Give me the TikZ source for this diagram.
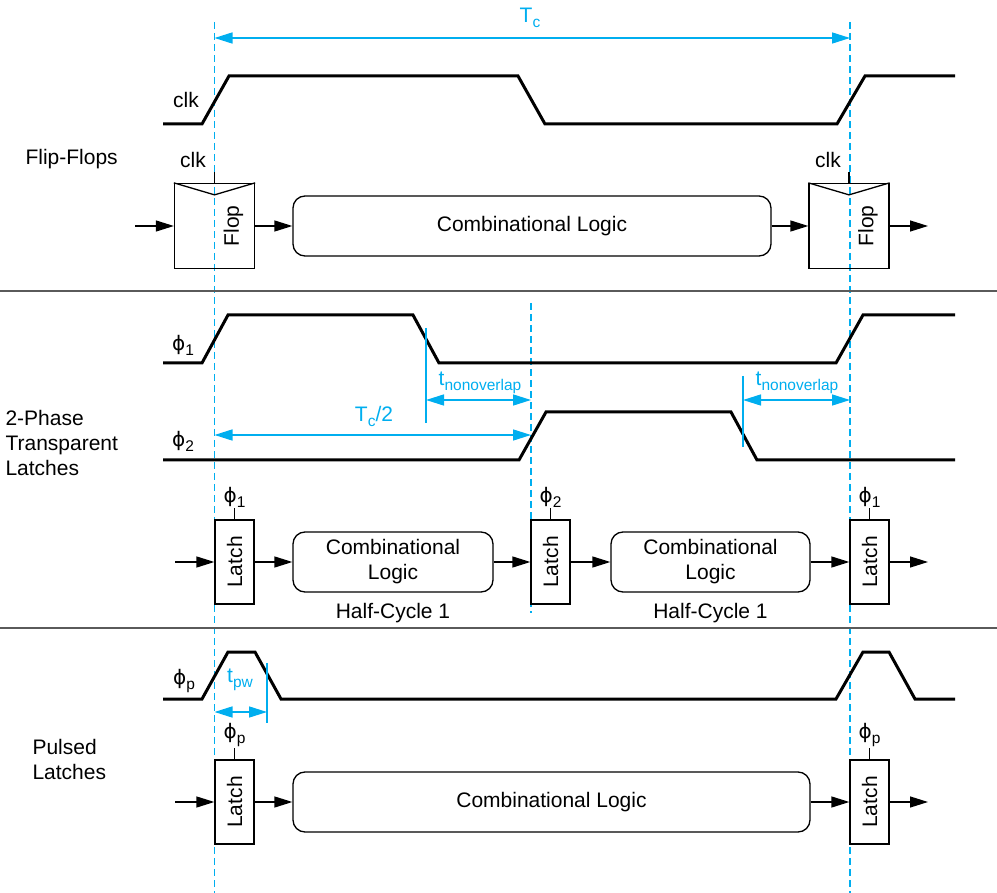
\documentclass[tikz,border=0pt]{standalone}
\usepackage{fontspec}
\setmainfont{Liberation Sans}
\newfontfamily\phifont{DejaVu Sans}
\usepackage{tikz}
\usetikzlibrary{arrows.meta, positioning}

\definecolor{dimcyan}{RGB}{0,174,239}
\definecolor{sepgray}{RGB}{90,90,90}
\newcommand{\lowsub}[1]{\raisebox{-5pt}{\fontsize{15.5}{16}\selectfont #1}}
\newcommand{\phsub}[1]{{\phifont\fontsize{20}{24}\selectfont ϕ}\lowsub{#1}}

\begin{document}
\begin{tikzpicture}[
  x=1pt, y=-1pt,
  font=\fontsize{21}{25}\selectfont,
  wave/.style={line width=3pt},
  blk/.style={rectangle, draw, line width=1.3pt, inner sep=0pt},
  flop/.style={blk, minimum width=80pt, minimum height=85pt},
  latch/.style={blk, minimum width=39pt, minimum height=84pt},
  comb/.style={blk, rounded corners=12pt, minimum height=60pt, align=center},
  arrow/.style={-{Triangle[length=18pt, width=11pt]}, line width=1.3pt},
  dimarrow/.style={{Triangle[length=18pt, width=11pt]}-{Triangle[length=18pt, width=11pt]}, line width=1.5pt, dimcyan},
  dimline/.style={dimcyan, line width=1.3pt},
  dimtext/.style={text=dimcyan, inner sep=0pt},
  cycleline/.style={dimcyan, line width=1.5pt, dash pattern=on 7pt off 4pt},
  clktick/.style={line width=1.3pt},
  sepline/.style={sepgray, line width=2pt}
]
\useasboundingbox (0,0) rectangle (997,893);

% cycle boundaries
\draw[cycleline] (214.5,22) -- (214.5,893);
\draw[cycleline] (850,22) -- (850,893);
\draw[cycleline] (531,303) -- (531,613);

% Tc
\coordinate (tcL) at (214.5,38);
\coordinate (tcR) at (850,38);
\draw[dimarrow] (tcL) -- (tcR);
\node[dimtext] (tclab) at (530,18) {T\lowsub{c}};

%% flip-flops
\node[anchor=west] (fflab) at (22,159) {Flip-Flops};
\node (clklab) at (186,100) {clk};
\draw[wave] (163,124) -- (202,124) -- (229,76) -- (518,76) -- (545,124) -- (837,124) -- (865,76) -- (955,76);

\coordinate (ffin) at (135,226);
\node[flop] (ff1) at (214.5,226) {};
\node[comb, minimum width=478pt] (cl1) at (532,226) {Combinational Logic};
\node[flop] (ff2) at (849,226) {};
\coordinate (ffout) at (928,226);
\node[rotate=90] (ff1t) at (233.5,226) {Flop};
\node[rotate=90] (ff2t) at (868,226) {Flop};
\draw[clktick] (ff1.north west) -- ([yshift=-12pt]ff1.north) -- (ff1.north east);
\draw[clktick] (ff2.north west) -- ([yshift=-12pt]ff2.north) -- (ff2.north east);
\draw[clktick] (ff1.north) -- ++(0,-11);
\draw[clktick] (ff2.north) -- ++(0,-11);
\node (ff1c) at (193,160) {clk};
\node (ff2c) at (828,160) {clk};

\draw[arrow] (ffin) -- (ff1);
\draw[arrow] (ff1) -- (cl1);
\draw[arrow] (cl1) -- (ff2);
\draw[arrow] (ff2) -- (ffout);

\draw[sepline] (0,291) -- (997,291);

%% 2-phase latches
\node[anchor=west, align=left] (tplab) at (2,443) {2-Phase\\Transparent\\Latches};
\node (ph1lab) at (183,345) {\phsub{1}};
\node (ph2lab) at (183,441) {\phsub{2}};
\draw[wave] (163,363) -- (202,363) -- (228,315) -- (413,315) -- (439,363) -- (836,363) -- (863,315) -- (955,315);
\draw[wave] (163,460) -- (519,460) -- (546,412) -- (731,412) -- (757,460) -- (955,460);

\draw[dimline] (426,328) -- (426,423);
\draw[dimline] (743,376) -- (743,447);
\coordinate (no1L) at (426,400);
\coordinate (no1R) at (531,400);
\coordinate (no2L) at (743,400);
\coordinate (no2R) at (850,400);
\coordinate (halfL) at (214.5,435);
\coordinate (halfR) at (531,435);
\draw[dimarrow] (no1L) -- (no1R);
\draw[dimarrow] (no2L) -- (no2R);
\draw[dimarrow] (halfL) -- (halfR);
\node[dimtext] (no1lab) at (480,383) {t\lowsub{nonoverlap}};
\node[dimtext] (no2lab) at (797,383) {t\lowsub{nonoverlap}};
\node[dimtext] (halflab) at (374,416) {T\lowsub{c}/2};

\coordinate (tpin) at (175,562);
\node[latch] (la1) at (234.5,562) {\rotatebox{90}{Latch}};
\node[comb, minimum width=200pt] (cb1) at (393,562) {Combinational\\Logic};
\node[latch] (la2) at (550.5,562) {\rotatebox{90}{Latch}};
\node[comb, minimum width=199pt] (cb2) at (710.5,562) {Combinational\\Logic};
\node[latch] (la3) at (869.5,562) {\rotatebox{90}{Latch}};
\coordinate (tpout) at (928,562);
\node[below=10pt of cb1, inner sep=0pt] (hc1) {Half-Cycle 1};
\node[below=10pt of cb2, inner sep=0pt] (hc2) {Half-Cycle 1};

\draw[arrow] (tpin) -- (la1);
\draw[arrow] (la1) -- (cb1);
\draw[arrow] (cb1) -- (la2);
\draw[arrow] (la2) -- (cb2);
\draw[arrow] (cb2) -- (la3);
\draw[arrow] (la3) -- (tpout);

\draw[clktick] (la1.north) -- ++(0,-11) coordinate (la1c);
\draw[clktick] (la2.north) -- ++(0,-11) coordinate (la2c);
\draw[clktick] (la3.north) -- ++(0,-11) coordinate (la3c);
\node[above=1pt of la1c, inner sep=0pt] (la1lab) {\phsub{1}};
\node[above=1pt of la2c, inner sep=0pt] (la2lab) {\phsub{2}};
\node[above=1pt of la3c, inner sep=0pt] (la3lab) {\phsub{1}};

\draw[sepline] (0,628) -- (997,628);

%% pulsed latches
\node[anchor=west, align=left] (pllab) at (29,759) {Pulsed\\Latches};
\node (pplab) at (184,681) {\phsub{p}};
\draw[wave] (163,699) -- (202,699) -- (228,652) -- (255,652) -- (281,699) -- (836,699) -- (863,652) -- (889,652) -- (915,699) -- (955,699);

\draw[dimline] (267,663) -- (267,723);
\coordinate (pwL) at (214.5,712);
\coordinate (pwR) at (267,712);
\draw[dimarrow] (pwL) -- (pwR);
\node[dimtext] (pwlab) at (240,680) {t\lowsub{pw}};

\coordinate (plin) at (175,802);
\node[latch] (lp1) at (234.5,802) {\rotatebox{90}{Latch}};
\node[comb, minimum width=517pt] (cl3) at (551.5,802) {Combinational Logic};
\node[latch] (lp2) at (869.5,802) {\rotatebox{90}{Latch}};
\coordinate (plout) at (928,802);

\draw[arrow] (plin) -- (lp1);
\draw[arrow] (lp1) -- (cl3);
\draw[arrow] (cl3) -- (lp2);
\draw[arrow] (lp2) -- (plout);

\draw[clktick] (lp1.north) -- ++(0,-11) coordinate (lp1c);
\draw[clktick] (lp2.north) -- ++(0,-11) coordinate (lp2c);
\node[above=1pt of lp1c, inner sep=0pt] (lp1lab) {\phsub{p}};
\node[above=1pt of lp2c, inner sep=0pt] (lp2lab) {\phsub{p}};

\end{tikzpicture}
\end{document}
